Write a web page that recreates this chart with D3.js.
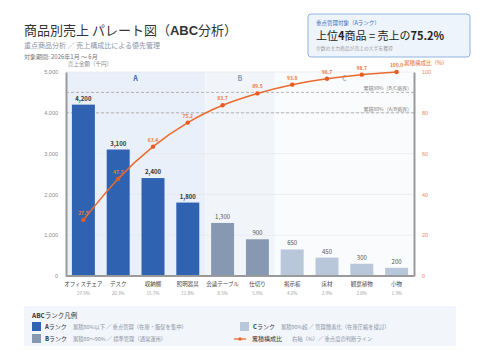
<!DOCTYPE html>
<html>
<head>
<meta charset="utf-8">
<script src="https://cdn.jsdelivr.net/npm/d3@7"></script>
<style>
  body { margin: 0; background: #fff; }
  svg { font-family: "Noto Sans CJK JP", "Noto Sans", sans-serif; }
</style>
</head>
<body>
<div id="chart"></div>
<script>
// chart data
const categories = ["オフィスチェア", "デスク", "収納棚", "照明器具", "会議テーブル", "仕切り", "掲示板", "床材", "観葉植物", "小物"];
const sales = [4200, 3100, 2400, 1800, 1300, 900, 650, 450, 300, 200];
const shares = ["27.5%", "20.3%", "15.7%", "11.8%", "8.5%", "5.9%", "4.2%", "2.9%", "2.0%", "1.3%"];
const cumulative = [27.5, 47.7, 63.4, 75.2, 83.7, 89.5, 93.8, 96.7, 98.7, 100];
const ranks = ["A", "A", "A", "A", "B", "B", "C", "C", "C", "C"];
const leftTicks = [0, 1000, 2000, 3000, 4000, 5000];
const rightTicks = [0, 20, 40, 60, 80, 100];

const rankColor = { A: "#2f62b0", B: "#8799b2", C: "#b9c7da" };

function init() {
    const width = 480, height = 360;
    const svg = d3.select("#chart").append("svg")
        .attr("width", width).attr("height", height);

    const left = 66, right = 414, top = 72, bottom = 276;

    const x = d3.scaleBand().domain(categories).range([left, right]).paddingInner(0.34).paddingOuter(0.17);
    const y = d3.scaleLinear().domain([0, 5000]).range([bottom, top]);
    const y2 = d3.scaleLinear().domain([0, 100]).range([bottom, top]);

    // rank zones
    const step = x.step();
    const zones = [
        { r: "A", from: 0, to: 4, fill: "#e9f0f9", label: "#2f62b0" },
        { r: "B", from: 4, to: 6, fill: "#f1f5fa", label: "#8799b2" },
        { r: "C", from: 6, to: 10, fill: "#fafbfc", label: "#b0b8c4" }
    ];
    const zx = i => i === 0 ? left : (i === 10 ? right : x(categories[i]) - step * x.paddingInner() / 2);
    svg.selectAll("rect.zone").data(zones).enter().append("rect")
        .attr("x", d => zx(d.from)).attr("y", top)
        .attr("width", d => zx(d.to) - zx(d.from)).attr("height", bottom - top)
        .attr("fill", d => d.fill);
    svg.selectAll("text.zone").data(zones).enter().append("text")
        .attr("x", d => (zx(d.from) + zx(d.to)) / 2).attr("y", 81)
        .attr("text-anchor", "middle").attr("font-size", 7).attr("font-weight", "bold")
        .attr("fill", d => d.label).text(d => d.r);

    // grid
    svg.selectAll("line.grid").data(leftTicks.slice(1)).enter().append("line")
        .attr("x1", left).attr("x2", right).attr("y1", d => y(d)).attr("y2", d => y(d))
        .attr("stroke", "#e6e8eb").attr("stroke-width", 0.7);

    // threshold lines
    const thresholds = [{ v: 90, t: "累積90%（B/C境界）" }, { v: 80, t: "累積80%（A/B境界）" }];
    thresholds.forEach(d => {
        svg.append("line").attr("x1", left).attr("x2", right)
            .attr("y1", y2(d.v)).attr("y2", y2(d.v))
            .attr("stroke", "#999").attr("stroke-dasharray", "3,2").attr("stroke-width", 0.7);
        svg.append("text").attr("x", right - 2).attr("y", y2(d.v) - 2)
            .attr("text-anchor", "end").attr("font-size", 5).attr("fill", "#888").text(d.t);
    });

    // bars
    svg.selectAll("rect.bar").data(sales).enter().append("rect")
        .attr("x", (d, i) => x(categories[i])).attr("y", d => y(d))
        .attr("width", x.bandwidth()).attr("height", d => bottom - y(d))
        .attr("fill", (d, i) => rankColor[ranks[i]]);
    svg.selectAll("text.val").data(sales).enter().append("text")
        .attr("x", (d, i) => x(categories[i]) + x.bandwidth() / 2).attr("y", d => y(d) - 4)
        .attr("text-anchor", "middle").attr("font-size", 6)
        .attr("font-weight", (d, i) => ranks[i] === "A" ? "bold" : "normal")
        .attr("fill", (d, i) => ranks[i] === "A" ? "#333" : "#555")
        .text(d => d3.format(",")(d));

    // axes
    const yAxis = d3.axisLeft(y).tickValues(leftTicks).tickFormat(d3.format(",")).tickSize(0).tickPadding(8);
    const gL = svg.append("g").attr("transform", `translate(${left},0)`).call(yAxis);
    gL.select(".domain").attr("stroke", "#9a9a9a").attr("stroke-width", 2);
    gL.selectAll("text").attr("font-size", 5.5).attr("fill", "#888");

    const y2Axis = d3.axisRight(y2).tickValues(rightTicks).tickSize(0).tickPadding(8);
    const gR = svg.append("g").attr("transform", `translate(${right},0)`).call(y2Axis);
    gR.select(".domain").attr("stroke", "#9a9a9a").attr("stroke-width", 2);
    gR.selectAll("text").attr("font-size", 5.5).attr("fill", "#f0875a");

    svg.append("line").attr("x1", left).attr("x2", right).attr("y1", bottom).attr("y2", bottom)
        .attr("stroke", "#9a9a9a").attr("stroke-width", 2);

    // category labels
    svg.selectAll("text.cat").data(categories).enter().append("text")
        .attr("x", d => x(d) + x.bandwidth() / 2).attr("y", 286)
        .attr("text-anchor", "middle").attr("font-size", 5.5).attr("fill", "#444").text(d => d);
    svg.selectAll("text.share").data(shares).enter().append("text")
        .attr("x", (d, i) => x(categories[i]) + x.bandwidth() / 2).attr("y", 295)
        .attr("text-anchor", "middle").attr("font-size", 4.5).attr("fill", "#999").text(d => d);

    // cumulative line
    const cx = i => x(categories[i]) + x.bandwidth() / 2;
    const line = d3.line().x((d, i) => cx(i)).y(d => y2(d)).curve(d3.curveMonotoneX);
    svg.append("path").datum(cumulative).attr("d", line)
        .attr("fill", "none").attr("stroke", "#ea6a2e").attr("stroke-width", 1.5);
    svg.selectAll("circle.cum").data(cumulative).enter().append("circle")
        .attr("cx", (d, i) => cx(i)).attr("cy", d => y2(d)).attr("r", 2.2).attr("fill", "#ea5a1e");
    svg.selectAll("text.cum").data(cumulative).enter().append("text")
        .attr("x", (d, i) => cx(i)).attr("y", d => y2(d) - 5)
        .attr("text-anchor", "middle").attr("font-size", 5).attr("font-weight", "bold")
        .attr("fill", "#ee7a45").text(d => d.toFixed(1));

    // axis titles
    svg.append("text").attr("x", left + 2).attr("y", 66).attr("font-size", 5.5).attr("fill", "#888").text("売上金額（千円）");
    svg.append("text").attr("x", 404).attr("y", 65)
        .attr("font-size", 5.5).attr("fill", "#ea6a2e").text("累積構成比（%）");

    // titles
    const title = svg.append("text").attr("x", 24).attr("y", 35).attr("font-size", 13).attr("fill", "#333");
    title.append("tspan").text("商品別売上 パレート図（");
    title.append("tspan").attr("font-weight", "bold").attr("font-family", "Liberation Sans, sans-serif").text("ABC");
    title.append("tspan").text("分析）");
    svg.append("text").attr("x", 24).attr("y", 48).attr("font-size", 7).attr("fill", "#8a94a6")
        .text("重点商品分析 ／ 売上構成比による優先管理");
    svg.append("text").attr("x", 24).attr("y", 59).attr("font-size", 6).attr("fill", "#777")
        .text("対象期間: 2026年1月 〜 6月");

    // callout
    svg.append("rect").attr("x", 308).attr("y", 14).attr("width", 162).attr("height", 43).attr("rx", 3)
        .attr("fill", "#eef4fb").attr("stroke", "#94b4de").attr("stroke-width", 1);
    svg.append("text").attr("x", 316).attr("y", 25).attr("font-size", 5.5).attr("fill", "#3a6cc0").text("重点管理対象（Aランク）");
    const big = svg.append("text").attr("x", 316).attr("y", 40).attr("font-size", 11).attr("fill", "#222");
    big.append("tspan").text("上位");
    big.append("tspan").attr("font-weight", "bold").text("4");
    big.append("tspan").text("商品 = 売上の");
    big.append("tspan").attr("font-weight", "bold").text("75.2%");
    svg.append("text").attr("x", 316).attr("y", 50).attr("font-size", 4.8).attr("fill", "#999").text("少数の主力商品が売上の大半を獲得");

    // legend
    svg.append("rect").attr("x", 24).attr("y", 306).attr("width", 432).attr("height", 40).attr("fill", "#f2f5f9");
    const lt = svg.append("text").attr("x", 32).attr("y", 318).attr("font-size", 6.5).attr("fill", "#333");
    lt.append("tspan").attr("font-weight", "bold").text("ABC");
    lt.append("tspan").text("ランク凡例");

    const legendRows = [
        { sw: "A", c: rankColor.A, name: "Aランク", desc: "累積80%以下 ／ 重点管理（在庫・販促を集中）", x: 32, y: 329 },
        { sw: "B", c: rankColor.B, name: "Bランク", desc: "累積80〜90% ／ 標準管理（通常運用）", x: 32, y: 341 },
        { sw: "C", c: rankColor.C, name: "Cランク", desc: "累積90%超 ／ 管理簡素化（在庫圧縮を検討）", x: 240, y: 329 },
        { sw: "L", c: "#ea6a2e", name: "累積構成比", desc: "右軸（%）／ 重点度の判断ライン", x: 240, y: 341 }
    ];
    legendRows.forEach(d => {
        if (d.sw === "L") {
            svg.append("line").attr("x1", d.x - 6).attr("x2", d.x + 6).attr("y1", d.y - 2).attr("y2", d.y - 2)
                .attr("stroke", d.c).attr("stroke-width", 1.3);
            svg.append("circle").attr("cx", d.x).attr("cy", d.y - 2).attr("r", 1.8).attr("fill", d.c);
        } else {
            svg.append("rect").attr("x", d.x).attr("y", d.y - 7).attr("width", 9).attr("height", 9).attr("fill", d.c);
        }
        const nx = d.sw === "L" ? d.x + 12 : d.x + 13;
        const nt = svg.append("text").attr("x", nx).attr("y", d.y).attr("font-size", 6).attr("fill", "#333");
        if (d.sw === "L") {
            nt.text(d.name);
        } else {
            nt.append("tspan").attr("font-weight", "bold").text(d.sw);
            nt.append("tspan").text("ランク");
        }
        svg.append("text").attr("x", d.sw === "L" ? d.x + 52 : d.x + 41).attr("y", d.y)
            .attr("font-size", 5.3).attr("fill", "#8a94a6").text(d.desc);
    });
}

window.onload = init;
</script>
</body>
</html>
